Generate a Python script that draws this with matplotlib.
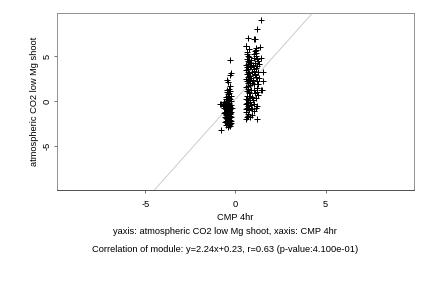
import matplotlib
matplotlib.use("Agg")
import matplotlib.pyplot as plt
import numpy as np

plt.rcParams['font.family'] = ['Liberation Sans', 'DejaVu Sans']

# Left cluster points (CMP 4hr, atmospheric CO2 low Mg shoot)
left_x = [-0.33, -0.24, -0.28, -0.46, -0.40, -0.30, -0.35, -0.45, -0.38, -0.87, -0.80, -0.70,
          -0.83, -0.39, -0.30, -0.50,
          -0.55, -0.50, -0.45, -0.40, -0.35, -0.30, -0.25, -0.60, -0.55, -0.50, -0.45, -0.40,
          -0.35, -0.30, -0.25, -0.65, -0.58, -0.52, -0.47, -0.42, -0.37, -0.32, -0.27, -0.22,
          -0.62, -0.56, -0.50, -0.44, -0.38, -0.33, -0.28, -0.23, -0.60, -0.54, -0.48, -0.42,
          -0.36, -0.31, -0.26, -0.57, -0.51, -0.45, -0.40, -0.34, -0.29, -0.24, -0.48, -0.33,
          -0.42, -0.37, -0.52, -0.46, -0.41, -0.53, -0.35, -0.66, -0.72, -0.62, -0.44, -0.27,
          -0.31, -0.39, -0.49]
left_y = [4.55, 3.15, 2.90, 2.33, 2.10, 1.70, 1.40, 1.00, 0.90, -0.26, -0.30, -0.50,
          -3.15, -2.85, -2.70, -2.60,
          0.5, 0.2, 0.3, 0.6, 0.4, 0.2, 0.0, -0.2, -0.4, -0.1, -0.3, -0.5,
          -0.2, -0.6, -0.4, -0.8, -0.7, -0.9, -1.0, -0.8, -1.1, -0.9, -1.2, -0.8,
          -1.3, -1.2, -1.4, -1.5, -1.3, -1.6, -1.4, -1.7, -1.8, -1.9, -1.7, -2.0,
          -1.9, -2.1, -2.2, -2.3, -2.2, -2.4, -2.5, -2.3, -2.5, -2.4, 1.3, 1.1,
          0.0, -0.3, -0.6, -1.2, -1.7, -1.5, -2.6, -0.4, -0.3, -0.1, 0.8, 0.6,
          -1.3, -0.9, -2.0]

# Right cluster points
right_x = [0.60, 0.65, 0.70, 0.62, 0.75, 0.68, 0.80, 0.58, 0.72, 0.66, 0.78, 0.61, 0.74,
           0.69, 0.83, 0.59, 0.71, 0.64, 0.77, 0.62, 0.73, 0.67, 0.80, 0.58, 0.70, 0.65,
           0.76, 0.60, 0.72, 0.68, 0.79, 0.57, 0.63, 0.77, 0.85, 0.88, 0.90, 0.86, 0.92,
           0.87, 0.91, 0.85, 0.93, 0.89, 0.64, 0.70, 0.76, 0.63, 0.81, 0.68, 0.74, 0.60,
           0.82, 0.66, 0.75, 0.69, 0.73, 0.61, 0.79, 0.67,
           1.00, 1.05, 1.10, 0.98, 1.15, 1.20, 1.02, 1.08, 1.25, 1.12, 0.97, 1.18, 1.05,
           1.22, 1.00, 1.10, 1.15, 0.98, 1.05, 1.20, 1.12, 1.00, 1.08, 1.14, 1.25, 1.30,
           1.28, 1.18, 1.24, 1.10, 1.03, 1.27, 1.15, 1.22,
           1.43, 1.17, 0.69, 1.02, 1.06, 0.61, 1.35, 1.11, 1.11, 1.39, 1.52, 1.52, 1.39,
           1.17, 0.57, 0.62, 1.45]
right_y = [6.1, 5.5, 5.0, 4.7, 4.4, 4.1, 3.8, 3.5, 3.3, 3.0, 2.8, 2.5, 2.3,
           2.0, 1.8, 1.6, 1.4, 1.1, 0.9, 0.6, 0.4, 0.1, -0.1, -0.3, -0.5, -0.8,
           -1.0, -1.2, -1.4, -1.6, -1.8, -0.9, 5.2, 5.8, 4.6, 3.9, 3.2, 2.6, 2.0,
           1.2, 0.5, -0.4, -0.9, -1.5, 3.8, 3.6, 3.1, 2.2, 2.4, 1.7, 1.0, 0.2,
           0.6, -0.2, -0.7, 4.5, 4.9, 4.0, 4.2, 2.7,
           5.2, 4.8, 4.3, 4.0, 3.7, 3.9, 3.4, 3.0, 3.2, 2.7, 2.4, 2.2, 1.9,
           1.5, 1.2, 0.9, 0.4, 0.1, -0.3, -0.5, -0.8, -1.1, 5.6, 5.9, 4.5, 4.1,
           2.6, 1.0, 0.7, 2.9, 3.6, 1.9, 5.0, 4.7,
           9.0, 8.0, 7.0, 6.9, 6.9, 6.1, 6.0, 5.7, 5.4, 4.85, 3.26, 2.26, 1.3,
           -1.93, -2.0, -1.75, 1.2]

slope = 2.24
intercept = 0.23
x_ticks = [-5, 0, 5]
y_ticks = [-5, 0, 5]
xlabel = "CMP 4hr"
ylabel = "atmospheric CO2 low Mg shoot"
caption1 = "yaxis: atmospheric CO2 low Mg shoot, xaxis: CMP 4hr"
caption2 = "Correlation of module: y=2.24x+0.23, r=0.63 (p-value:4.100e-01)"

fig = plt.figure(figsize=(6, 4), dpi=72)
ax = fig.add_axes([57/432, 1 - 190/288, (414-57)/432, (190-13)/288])

xs = left_x + right_x
ys = left_y + right_y
ax.plot(xs, ys, linestyle='none', marker='+', color='black', markersize=5.5, markeredgewidth=1.0)

xlim = (-9.9, 9.9)
ylim = (-9.85, 9.8)
lx = np.array(xlim)
ax.plot(lx, slope * lx + intercept, color='#c8c8c8', linewidth=0.9, zorder=1)
ax.set_xlim(*xlim)
ax.set_ylim(*ylim)

fs = 9.3
ax.set_xticks(x_ticks)
ax.set_yticks(y_ticks)
ax.set_xticklabels([str(t) for t in x_ticks], fontsize=fs)
ax.set_yticklabels([str(t) for t in y_ticks], fontsize=fs, rotation=90, va='center')
ax.tick_params(direction='out', length=3, width=0.8, color='#555555')
ax.tick_params(axis='x', pad=7)
ax.tick_params(axis='y', pad=2)
for s in ax.spines.values():
    s.set_color('#888888')
    s.set_linewidth(0.9)
ax.spines['bottom'].set_color('#444444')

ax.set_xlabel(xlabel, fontsize=fs, labelpad=4)
ax.set_ylabel(ylabel, fontsize=fs, labelpad=4)

fig.text(225/432, 1 - 232/288, caption1, ha='center', va='center', fontsize=fs)
fig.text(225/432, 1 - 249/288, caption2, ha='center', va='center', fontsize=fs)

fig.savefig("out.png", dpi=72)
